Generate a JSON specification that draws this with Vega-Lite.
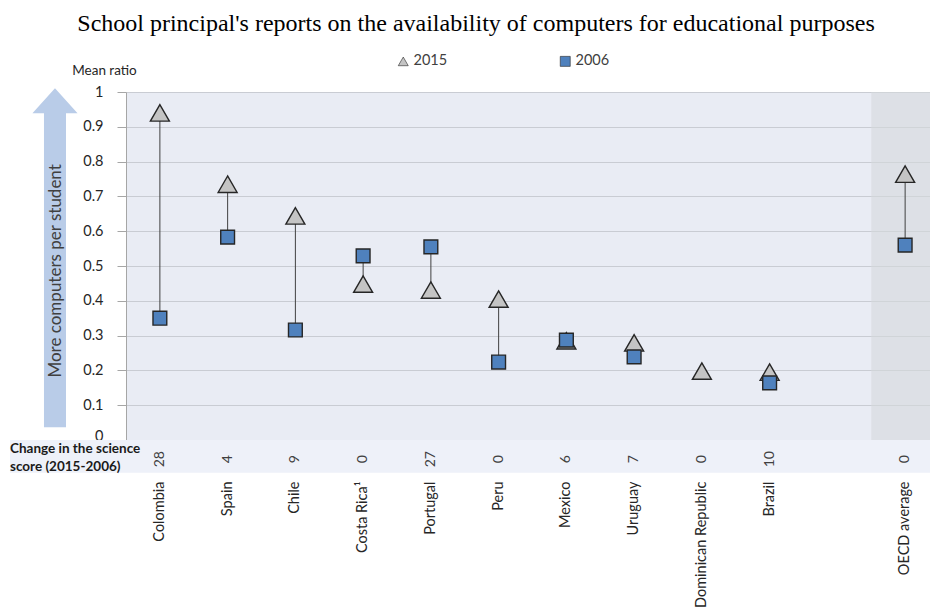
{
  "$schema": "https://vega.github.io/schema/vega-lite/v6.json",
  "width": 804,
  "height": 348,
  "autosize": {"type": "none"},
  "padding": {"left": 126, "top": 92, "right": 0, "bottom": 176},
  "background": "white",
  "config": {
    "font": "Lato",
    "view": {"stroke": null, "fill": "#e9ecf4"},
    "text": {"font": "Lato"}
  },
  "title": {
    "text": "School principal's reports on the availability of computers for educational purposes",
    "font": "Liberation Serif",
    "fontSize": 24,
    "fontWeight": "normal",
    "color": "#000000",
    "frame": "group",
    "anchor": "middle",
    "dx": -52,
    "dy": -14
  },
  "datasets": {
    "countries": [
      {"country": "Colombia", "2015": 0.94, "2006": 0.35, "change": "28"},
      {"country": "Spain", "2015": 0.735, "2006": 0.583, "change": "4"},
      {"country": "Chile", "2015": 0.644, "2006": 0.316, "change": "9"},
      {"country": "Costa Rica¹", "2015": 0.448, "2006": 0.529, "change": "0"},
      {"country": "Portugal", "2015": 0.431, "2006": 0.555, "change": "27"},
      {"country": "Peru", "2015": 0.405, "2006": 0.224, "change": "0"},
      {"country": "Mexico", "2015": 0.285, "2006": 0.287, "change": "6"},
      {"country": "Uruguay", "2015": 0.279, "2006": 0.239, "change": "7"},
      {"country": "Dominican Republic", "2015": 0.198, "2006": null, "change": "0"},
      {"country": "Brazil", "2015": 0.195, "2006": 0.164, "change": "10"},
      {"country": "OECD average", "2015": 0.764, "2006": 0.56, "change": "0"}
    ],
    "notes": [
      {"arrowText": "More computers per student", "rowLabel": "Change in the science\nscore (2015-2006)"}
    ]
  },
  "layer": [
    {
      "data": {"name": "notes"},
      "layer": [
        {
          "mark": {"type": "rect", "fill": "#eef1f9"},
          "encoding": {
            "x": {"datum": 0, "type": "quantitative", "scale": {"domain": [0, 1], "range": [-116, 804]}, "axis": null},
            "x2": {"datum": 1},
            "y": {"datum": 0, "type": "quantitative", "scale": {"domain": [0, 1]}, "axis": null},
            "y2": {"datum": -0.094}
          }
        },
        {
          "mark": {"type": "point", "filled": true, "fill": "#b9cce8", "opacity": 1, "strokeWidth": 0,
            "shape": "M-0.065,1L-0.065,-0.8525L-0.133,-0.8525L0,-1L0.133,-0.8525L0.065,-0.8525L0.065,1Z",
            "size": 114921},
          "encoding": {
            "x": {"datum": 0.0489, "type": "quantitative", "scale": {"domain": [0, 1], "range": [-116, 804]}, "axis": null},
            "y": {"datum": 0.524, "type": "quantitative", "scale": {"domain": [0, 1]}, "axis": null}
          }
        },
        {
          "mark": {"type": "text", "angle": 270, "align": "center", "baseline": "middle", "fontSize": 17, "fill": "#404040"},
          "encoding": {
            "x": {"datum": 0.05, "type": "quantitative", "scale": {"domain": [0, 1], "range": [-116, 804]}, "axis": null},
            "y": {"datum": 0.486, "type": "quantitative", "scale": {"domain": [0, 1]}, "axis": null},
            "text": {"field": "arrowText"}
          }
        },
        {
          "mark": {"type": "text", "align": "left", "baseline": "top", "fontSize": 13.5, "fontWeight": "bold", "fill": "#1a1a1a", "lineBreak": "\n", "lineHeight": 18},
          "encoding": {
            "x": {"datum": 0, "type": "quantitative", "scale": {"domain": [0, 1], "range": [-116, 804]}, "axis": null},
            "y": {"datum": -0.006, "type": "quantitative", "scale": {"domain": [0, 1]}, "axis": null},
            "text": {"field": "rowLabel"}
          }
        }
      ]
    },
    {
      "data": {"name": "countries"},
      "encoding": {
        "x": {
          "field": "country",
          "type": "nominal",
          "sort": null,
          "scale": {
            "domain": ["Colombia", "Spain", "Chile", "Costa Rica¹", "Portugal", "Peru", "Mexico", "Uruguay", "Dominican Republic", "Brazil", " ", "OECD average"],
            "range": [0, 813],
            "paddingInner": 0,
            "paddingOuter": 0
          },
          "axis": {
            "title": null,
            "labelAngle": 270,
            "labelAlign": "right",
            "labelBaseline": "middle",
            "labelPadding": 41,
            "ticks": false,
            "domain": false,
            "grid": false,
            "labelFontSize": 14.5,
            "labelColor": "#262626",
            "labelLimit": 300
          }
        }
      },
      "layer": [
        {
          "transform": [{"filter": "datum.country == 'OECD average'"}],
          "mark": {"type": "rect", "fill": "#d6d8dc", "opacity": 0.6},
          "encoding": {
            "y": {"datum": 0, "type": "quantitative", "scale": {"domain": [0, 1]},
              "axis": {"values": [0, 0.1, 0.2, 0.3, 0.4, 0.5, 0.6, 0.7, 0.8, 0.9, 1], "format": ".1~f", "title": "Mean ratio", "titleAngle": 0, "titleX": -22, "titleY": -22, "titleAlign": "center", "titleBaseline": "middle", "titleFontSize": 13.5, "titleFontWeight": "normal", "titleColor": "#262626", "labelFontSize": 14.5, "labelColor": "#262626", "labelPadding": 14, "labelBaseline": {"condition": {"test": "datum.value == 0", "value": "alphabetic"}, "value": "middle"}, "tickSize": 9, "tickColor": "#a6a6a6", "domainColor": "#a6a6a6", "gridColor": "#c9ccd3", "grid": true, "labelOverlap": false}
            },
            "y2": {"datum": 1}
          }
        },
        {
          "transform": [{"filter": "isValid(datum['2006'])"}],
          "mark": {"type": "rule", "color": "#404040", "strokeWidth": 1},
          "encoding": {
            "y": {"field": "2015", "type": "quantitative", "scale": {"domain": [0, 1]},
              "axis": {"values": [0, 0.1, 0.2, 0.3, 0.4, 0.5, 0.6, 0.7, 0.8, 0.9, 1], "format": ".1~f", "title": "Mean ratio", "titleAngle": 0, "titleX": -22, "titleY": -22, "titleAlign": "center", "titleBaseline": "middle", "titleFontSize": 13.5, "titleFontWeight": "normal", "titleColor": "#262626", "labelFontSize": 14.5, "labelColor": "#262626", "labelPadding": 14, "labelBaseline": {"condition": {"test": "datum.value == 0", "value": "alphabetic"}, "value": "middle"}, "tickSize": 9, "tickColor": "#a6a6a6", "domainColor": "#a6a6a6", "gridColor": "#c9ccd3", "grid": true, "labelOverlap": false}
            },
            "y2": {"field": "2006"}
          }
        },
        {
          "transform": [{"fold": ["2015", "2006"], "as": ["year", "value"]}],
          "mark": {"type": "point", "filled": true, "opacity": 1, "stroke": "#262626", "strokeWidth": 1.4},
          "encoding": {
            "y": {"field": "value", "type": "quantitative", "scale": {"domain": [0, 1]},
              "axis": {"values": [0, 0.1, 0.2, 0.3, 0.4, 0.5, 0.6, 0.7, 0.8, 0.9, 1], "format": ".1~f", "title": "Mean ratio", "titleAngle": 0, "titleX": -22, "titleY": -22, "titleAlign": "center", "titleBaseline": "middle", "titleFontSize": 13.5, "titleFontWeight": "normal", "titleColor": "#262626", "labelFontSize": 14.5, "labelColor": "#262626", "labelPadding": 14, "labelBaseline": {"condition": {"test": "datum.value == 0", "value": "alphabetic"}, "value": "middle"}, "tickSize": 9, "tickColor": "#a6a6a6", "domainColor": "#a6a6a6", "gridColor": "#c9ccd3", "grid": true, "labelOverlap": false}
            },
            "shape": {
              "field": "year",
              "type": "nominal",
              "scale": {"domain": ["2015", "2006"], "range": ["triangle-up", "square"]},
              "legend": {
                "title": null,
                "orient": "none",
                "legendX": 270,
                "legendY": -38,
                "direction": "horizontal",
                "columnPadding": 110,
                "symbolSize": 100,
                "symbolStrokeWidth": 0.6,
                "labelFontSize": 14.5,
                "labelColor": "#404040",
                "labelOffset": 3
              }
            },
            "fill": {
              "field": "year",
              "type": "nominal",
              "scale": {"domain": ["2015", "2006"], "range": ["#c4c4c4", "#4f81bd"]}
            },
            "size": {"condition": {"test": "datum.year == '2015'", "value": 361}, "value": 190}
          }
        },
        {
          "mark": {"type": "text", "angle": 270, "align": "center", "baseline": "middle", "fontSize": 14, "fill": "#404040"},
          "encoding": {
            "y": {"datum": -0.055, "type": "quantitative", "scale": {"domain": [0, 1]},
              "axis": {"values": [0, 0.1, 0.2, 0.3, 0.4, 0.5, 0.6, 0.7, 0.8, 0.9, 1], "format": ".1~f", "title": "Mean ratio", "titleAngle": 0, "titleX": -22, "titleY": -22, "titleAlign": "center", "titleBaseline": "middle", "titleFontSize": 13.5, "titleFontWeight": "normal", "titleColor": "#262626", "labelFontSize": 14.5, "labelColor": "#262626", "labelPadding": 14, "labelBaseline": {"condition": {"test": "datum.value == 0", "value": "alphabetic"}, "value": "middle"}, "tickSize": 9, "tickColor": "#a6a6a6", "domainColor": "#a6a6a6", "gridColor": "#c9ccd3", "grid": true, "labelOverlap": false}
            },
            "text": {"field": "change"}
          }
        }
      ]
    }
  ],
  "resolve": {
    "scale": {"x": "independent", "y": "independent"},
    "axis": {"x": "independent", "y": "independent"}
  }
}
